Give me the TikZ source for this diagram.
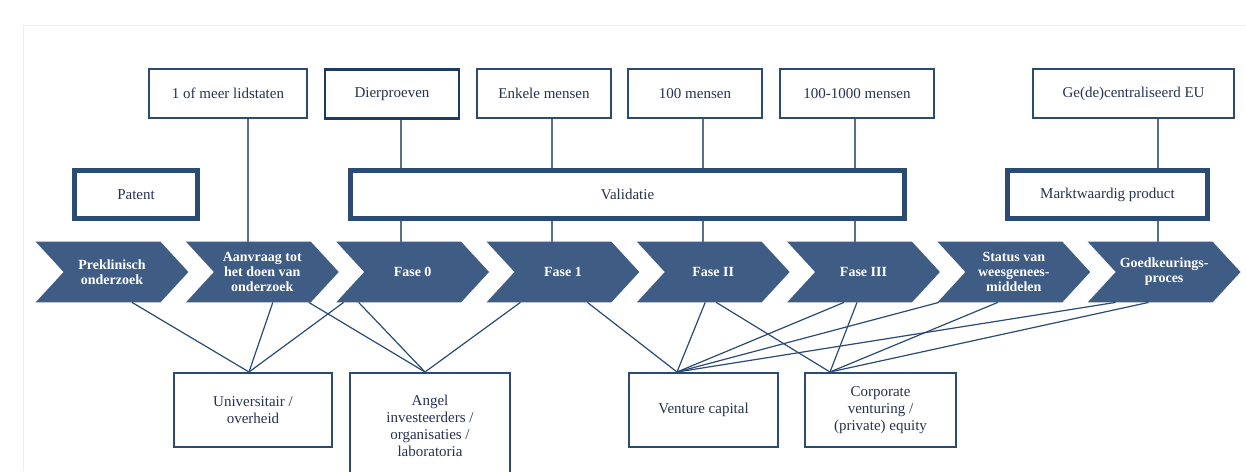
\documentclass[tikz,border=0pt]{standalone}
\usepackage{fontspec}
\setmainfont{Liberation Serif}
\usetikzlibrary{positioning, calc, backgrounds}

\definecolor{chevblue}{HTML}{3F5C84}
\definecolor{boxline}{HTML}{2B4B73}
\definecolor{darkline}{HTML}{1C3B64}
\definecolor{stemcol}{HTML}{56728F}
\definecolor{txtblue}{HTML}{27324F}
\newcommand{\diafont}{\fontsize{7.5}{8.4}\selectfont}
\newcommand{\chevfont}{\fontsize{7}{7.4}\selectfont\bfseries}

\tikzset{
  chev/.style={minimum width=76pt, minimum height=30pt, inner sep=0pt, align=center, text=white, font=\chevfont},
  topbox/.style={draw=boxline, line width=1pt, fill=white, minimum height=24.5pt, inner sep=1pt, text=txtblue, font=\diafont},
  midbox/.style={draw=boxline, line width=2.5pt, fill=white, minimum height=24pt, inner sep=1pt, text=txtblue, font=\diafont},
  lowbox/.style={draw=boxline, line width=1pt, fill=white, minimum height=37pt, inner sep=1pt, align=center, text=txtblue, font=\diafont},
  stem/.style={draw=stemcol, line width=0.8pt},
  link/.style={draw=boxline, line width=0.6pt}
}

\begin{document}
\begin{tikzpicture}[x=0.5pt, y=-0.5pt]
  \useasboundingbox (0,0) rectangle (1246,471);
  \begin{scope}[on background layer]
    \fill[white] (0,0) rectangle (1246,471);
  \end{scope}
  \draw[black!7] (23,471) -- (23,25) -- (1246,25);

  % de fases
  \node[chev] (c1) at (112,272) {Preklinisch\\onderzoek};
  \node[chev, right=-1.25pt of c1] (c2) {Aanvraag tot\\het doen van\\onderzoek};
  \node[chev, right=-1.25pt of c2] (c3) {Fase 0};
  \node[chev, right=-1.25pt of c3] (c4) {Fase 1};
  \node[chev, right=-1.25pt of c4] (c5) {Fase II};
  \node[chev, right=-1.25pt of c5] (c6) {Fase III};
  \node[chev, right=-1.25pt of c6] (c7) {Status van\\weesgenees-\\middelen};
  \node[chev, right=-1.25pt of c7] (c8) {Goedkeurings-\\proces};
  \begin{scope}[on background layer]
    \foreach \c in {c1,c2,c3,c4,c5,c6,c7,c8}
      \fill[chevblue] (\c.north west) -- ([xshift=-14pt]\c.north east) -- (\c.east)
        -- ([xshift=-14pt]\c.south east) -- (\c.south west) -- ([xshift=14pt]\c.west) -- cycle;
  \end{scope}

  % bovenste rij
  \node[topbox, minimum width=79pt] (lid) at (228,93.5) {1 of meer lidstaten};
  \node[topbox, minimum width=67pt, draw=darkline, line width=1.4pt] (dier) at (392,94) {Dierproeven};
  \node[topbox, minimum width=67pt] (enk) at (544,93.5) {Enkele mensen};
  \node[topbox, minimum width=67pt] (honderd) at (695,93.5) {100 mensen};
  \node[topbox, minimum width=77pt] (duizend) at (857,93.5) {100-1000 mensen};
  \node[topbox, minimum width=100.5pt] (eu) at (1133.5,93.5) {Ge(de)centraliseerd EU};

  \draw[stem] ([xshift=10pt]lid.south) -- ([xshift=10pt]lid.south |- c2.north);
  \draw[stem] ([xshift=4.5pt]dier.south) -- ([xshift=4.5pt]dier.south |- c3.north);
  \draw[stem] ([xshift=4pt]enk.south) -- ([xshift=4pt]enk.south |- c4.north);
  \draw[stem] ([xshift=4pt]honderd.south) -- ([xshift=4pt]honderd.south |- c5.north);
  \draw[stem] ([xshift=-1pt]duizend.south) -- ([xshift=-1pt]duizend.south |- c6.north);
  \draw[stem] ([xshift=12.25pt]eu.south) -- ([xshift=12.25pt]eu.south |- c8.north);

  % middelste rij
  \node[midbox, minimum width=61.5pt] (patent) at (136,194.5) {Patent};
  \node[midbox, minimum width=277pt] (valid) at (627.5,194.5) {Validatie};
  \node[midbox, minimum width=100pt] (markt) at (1107.5,194.5) {Marktwaardig product};

  % financiering
  \node[lowbox, minimum width=79pt] (univ) at (253,410) {Universitair /\\overheid};
  \node[lowbox, minimum width=80pt, minimum height=53pt] (angel) at (430,426) {Angel\\investeerders /\\organisaties /\\laboratoria};
  \node[lowbox, minimum width=74.5pt] (vc) at (703.5,410) {Venture capital};
  \node[lowbox, minimum width=75.5pt] (corp) at (880.5,410) {Corporate\\venturing /\\(private) equity};

  \coordinate (univtop) at ([xshift=-2pt]univ.north);
  \coordinate (angeltop) at ([xshift=-2.5pt]angel.north);
  \coordinate (vctop) at ([xshift=-13.25pt]vc.north);
  \coordinate (corptop) at ([xshift=-25.25pt]corp.north);

  \draw[link] ([xshift=10pt]c1.south) -- (univtop);
  \draw[link] ([xshift=5.25pt]c2.south) -- (univtop);
  \draw[link] ([xshift=-34.5pt]c3.south) -- (univtop);
  \draw[link] ([xshift=23.25pt]c2.south) -- (angeltop);
  \draw[link] ([xshift=-27pt]c3.south) -- (angeltop);
  \draw[link] ([xshift=-21.25pt]c4.south) -- (angeltop);
  \draw[link] ([xshift=12.25pt]c4.south) -- (vctop);
  \draw[link] ([xshift=-4pt]c5.south) -- (vctop);
  \draw[link] ([xshift=-9.75pt]c6.south) -- (vctop);
  \draw[link] ([xshift=-37.5pt]c7.south) -- (vctop);
  \draw[link] ([xshift=-24.25pt]c8.south) -- (vctop);
  \draw[link] ([xshift=1.5pt]c5.south) -- (corptop);
  \draw[link] ([xshift=-3.25pt]c6.south) -- (corptop);
  \draw[link] ([xshift=-8pt]c7.south) -- (corptop);
  \draw[link] ([xshift=-7.75pt]c8.south) -- (corptop);
\end{tikzpicture}
\end{document}
